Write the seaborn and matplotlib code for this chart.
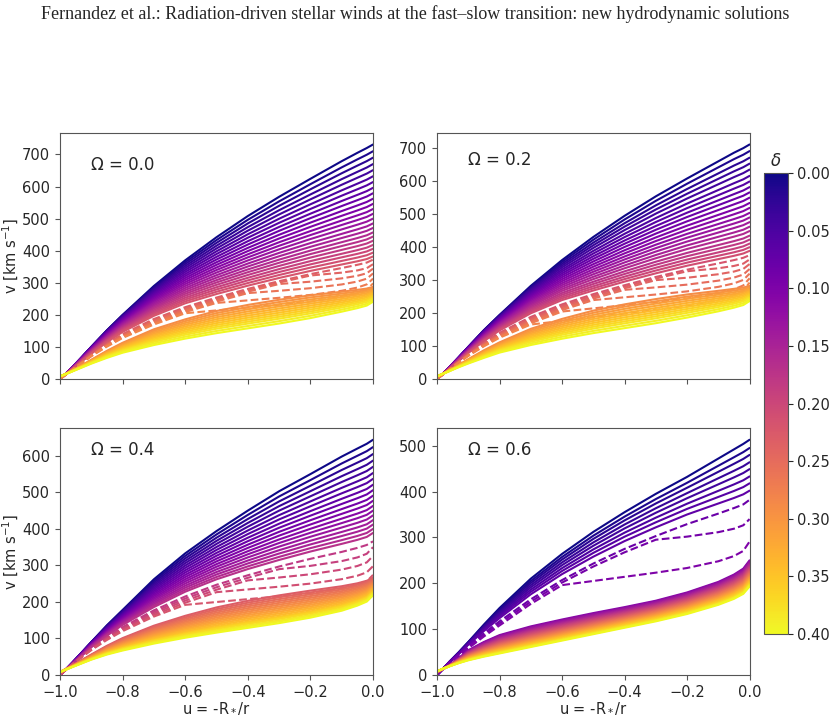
import numpy as np
import pandas as pd
import matplotlib
matplotlib.use("Agg")
import matplotlib.pyplot as plt
import seaborn as sns

U = [-1.0, -0.98, -0.96, -0.93, -0.9, -0.85, -0.8, -0.7, -0.6, -0.5, -0.4, -0.3, -0.2, -0.1, -0.05, -0.02, 0.0]

OMEGAS = [0.0, 0.2, 0.4, 0.6]
DELTAS = [round(0.01 * i, 2) for i in range(41)]

# terminal speeds at u = 0 (km/s), in delta order: fast solid, dashed, slow solid
FAST_END = {
    0.0: [731, 710, 690, 670, 651, 632, 614, 596, 579, 562, 546, 530, 515, 500, 485, 471, 457, 444, 431, 418, 406, 394, 382],
    0.2: [710, 690, 670, 652, 634, 615, 598, 581, 565, 549, 533, 518, 503, 489, 475, 461, 448, 434, 422, 410, 399, 388],
    0.4: [644, 624, 605, 587, 570, 553, 537, 521, 506, 491, 477, 463, 450, 437, 424, 412, 400, 389],
    0.6: [513, 495, 480, 464, 449, 433, 418, 402],
}
DASH_END = {
    0.0: [372, 358, 344, 329, 313, 298],
    0.2: [375, 362, 348, 333, 319, 305, 292],
    0.4: [366, 350, 326, 298, 274],
    0.6: [382, 340, 291],
}
# u where each dashed solution leaves the fast-like track
DASH_KINK = {
    0.0: [0.0, -0.2, -0.3, -0.4, -0.5, -0.6],
    0.2: [0.0, -0.2, -0.3, -0.4, -0.5, -0.6, -0.7],
    0.4: [0.0, -0.3, -0.4, -0.5, -0.6],
    0.6: [0.0, -0.3, -0.6],
}
SLOW_END = {
    0.0: [287, 283, 279, 275, 271, 267, 263, 259, 255, 251, 246, 241],
    0.2: [282, 278, 274, 270, 266, 262, 258, 254, 250, 246, 241, 236],
    0.4: [266, 263, 260, 257, 254, 251, 248, 245, 242, 239, 236, 233, 230, 228, 226, 223, 221, 218],
    0.6: [250, 248, 246, 244, 242, 240, 238, 236, 234, 232, 230, 228, 226, 224, 222, 220, 218, 216, 214,
          212, 210, 208, 206, 204, 202, 200, 198, 196, 195, 193],
}

# outer curves of each family, read at U (km/s)
FAST_TOP = {
    0.0: [0, 18, 37, 68, 100, 152, 200, 290, 370, 442, 508, 568, 624, 679, 705, 720, 731],
    0.2: [0, 17, 36, 66, 97, 148, 194, 282, 360, 430, 494, 553, 607, 659, 685, 699, 710],
    0.4: [0, 16, 34, 62, 90, 136, 178, 262, 333, 394, 450, 503, 550, 598, 620, 633, 644],
    0.6: [0, 14, 29, 50, 72, 110, 146, 210, 264, 312, 355, 395, 432, 472, 492, 504, 513],
}
FAST_LOW = {
    0.0: [0, 15, 31, 55, 79, 115, 147, 197, 236, 265, 291, 315, 337, 357, 367, 374, 382],
    0.2: [0, 15, 31, 55, 79, 115, 147, 199, 239, 268, 295, 320, 343, 363, 373, 380, 388],
    0.4: [0, 15, 30, 53, 76, 108, 137, 186, 228, 262, 290, 315, 338, 359, 370, 378, 389],
    0.6: [0, 14, 28, 46, 66, 96, 124, 176, 220, 258, 292, 322, 350, 374, 386, 394, 402],
}
DASH_TOP = {
    0.0: [0, 15, 30, 53, 76, 110, 140, 187, 224, 254, 281, 305, 327, 346, 356, 363, 372],
    0.2: [0, 15, 30, 53, 76, 110, 140, 188, 226, 257, 284, 309, 331, 350, 360, 367, 375],
    0.4: [0, 15, 30, 52, 73, 104, 131, 177, 215, 247, 273, 297, 318, 337, 348, 356, 366],
    0.6: [0, 14, 28, 45, 63, 91, 117, 165, 207, 243, 275, 303, 329, 352, 364, 372, 382],
}
DASH_LOW = {
    0.0: [0, 15, 29, 50, 71, 101, 128, 170, 205, 233, 259, 283, 305, 325, 335, 342, 350],
    0.2: [0, 15, 29, 50, 70, 99, 125, 165, 200, 230, 256, 280, 302, 322, 332, 339, 347],
    0.4: [0, 15, 29, 49, 68, 96, 120, 160, 192, 220, 245, 268, 290, 310, 320, 327, 335],
    0.6: [0, 13, 26, 42, 58, 84, 108, 155, 196, 230, 260, 287, 312, 334, 345, 352, 360],
}
SLOW_TOP = {
    0.0: [8, 17, 27, 43, 60, 88, 113, 155, 186, 212, 231, 247, 261, 272, 278, 282, 287],
    0.2: [8, 17, 27, 43, 60, 87, 111, 152, 182, 207, 226, 242, 256, 267, 273, 277, 282],
    0.4: [8, 17, 26, 41, 56, 80, 101, 135, 162, 185, 203, 218, 231, 243, 251, 258, 266],
    0.6: [5, 13, 21, 37, 54, 72, 87, 106, 121, 135, 148, 162, 180, 203, 219, 232, 250],
}
SLOW_LOW = {
    0.0: [8, 16, 24, 36, 48, 66, 82, 106, 126, 143, 158, 173, 190, 210, 221, 229, 241],
    0.2: [8, 16, 24, 36, 47, 64, 80, 103, 122, 139, 154, 169, 186, 205, 216, 224, 236],
    0.4: [8, 15, 22, 32, 42, 56, 67, 86, 102, 116, 129, 142, 157, 176, 190, 201, 218],
    0.6: [8, 14, 19, 26, 32, 40, 47, 61, 75, 89, 103, 117, 133, 153, 166, 177, 193],
}
# rise of a dashed solution after it leaves the track (flat, then steep near u=0)
TAIL = [0, 0, 0, 0, 0, 0, 0, 8, 16, 24, 32, 40, 49, 62, 72, 82, 100]

CBAR_TICKS = [0.0, 0.05, 0.10, 0.15, 0.20, 0.25, 0.30, 0.35, 0.40]


def family(top, low, v_end):
    top = np.asarray(top, float)
    low = np.asarray(low, float)
    w = (top[-1] - v_end) / (top[-1] - low[-1])
    return v_end * ((1 - w) * top / top[-1] + w * low / low[-1])


def dashed(top, low, w, kink, v_end):
    v = (1 - w) * np.asarray(top, float) + w * np.asarray(low, float)
    if kink < 0:
        tail = np.asarray(TAIL, float)
        k = U.index(kink)
        frac = (tail - tail[k]) / (tail[-1] - tail[k])
        v[k:] = v[k] + (v_end - v[k]) * frac[k:]
    return v


rows = []
for om in OMEGAS:
    curves = []
    for ve in FAST_END[om]:
        curves.append(("fast", family(FAST_TOP[om], FAST_LOW[om], ve)))
    n_dash = len(DASH_END[om])
    for j, (ve, uk) in enumerate(zip(DASH_END[om], DASH_KINK[om])):
        curves.append(("dash", dashed(DASH_TOP[om], DASH_LOW[om], j / (n_dash - 1), uk, ve)))
    for ve in SLOW_END[om]:
        curves.append(("slow", family(SLOW_TOP[om], SLOW_LOW[om], ve)))
    for d, (kind, v) in zip(DELTAS, curves):
        for uu, vv in zip(U, v):
            rows.append({"omega": om, "delta": d, "kind": kind, "curve": f"{om}-{d}", "u": uu, "v": vv})
df = pd.DataFrame(rows)

sns.set_style("ticks", {"axes.edgecolor": "#555555"})
plt.rcParams["font.family"] = ["DejaVu Sans"]
plt.rcParams["axes.linewidth"] = 0.8

fig = plt.figure(figsize=(8.31, 7.18), dpi=100)
boxes = [
    [0.0722, 0.4721, 0.3767, 0.3430],
    [0.5259, 0.4721, 0.3761, 0.3430],
    [0.0722, 0.0599, 0.3767, 0.3440],
    [0.5259, 0.0599, 0.3761, 0.3440],
]
label_y = [0.87, 0.89, 0.91, 0.91]

for i, om in enumerate(OMEGAS):
    ax = fig.add_axes(boxes[i])
    sub = df[df["omega"] == om]
    sns.lineplot(data=sub, x="u", y="v", hue="delta", palette="plasma", hue_norm=(0, 0.4),
                 style="kind", dashes={"fast": "", "dash": (3.7, 1.6), "slow": ""},
                 units="curve", estimator=None, sort=False, legend=False, lw=1.5, ax=ax)
    ax.set_xlim(-1, 0)
    ax.set_ylim(bottom=0)
    ax.set_xticks([-1.0, -0.8, -0.6, -0.4, -0.2, 0.0])
    ax.tick_params(labelsize=10.5, color="#555555")
    ax.text(0.10, label_y[i], f"Ω = {om:.1f}", transform=ax.transAxes, fontsize=12, va="center")
    if i % 2 == 0:
        ax.set_ylabel(r"v [km s$^{-1}$]", fontsize=10.5)
        ax.yaxis.set_label_coords(-0.125, 0.5)
    else:
        ax.set_ylabel("")
    if i < 2:
        ax.set_xlabel("")
        ax.set_xticklabels([])
    else:
        ax.set_xlabel(r"u = -R$_*$/r", fontsize=10.5, labelpad=1)

cax = fig.add_axes([0.9194, 0.117, 0.0283, 0.642])
sm = plt.cm.ScalarMappable(cmap="plasma", norm=plt.Normalize(0, 0.4))
cb = fig.colorbar(sm, cax=cax, ticks=CBAR_TICKS)
cb.ax.invert_yaxis()
cb.ax.set_yticklabels([f"{t:.2f}" for t in CBAR_TICKS])
cb.ax.tick_params(labelsize=10.5)
cb.outline.set_linewidth(0.8)
cax.set_title(r"$\delta$", fontsize=12, pad=5)

fig.text(0.5, 0.980, "Fernandez et al.: Radiation-driven stellar winds at the fast\u2013slow transition: new hydrodynamic solutions",
         ha="center", va="center", fontsize=13, family="Liberation Serif")

fig.savefig("out.png", dpi=100)
